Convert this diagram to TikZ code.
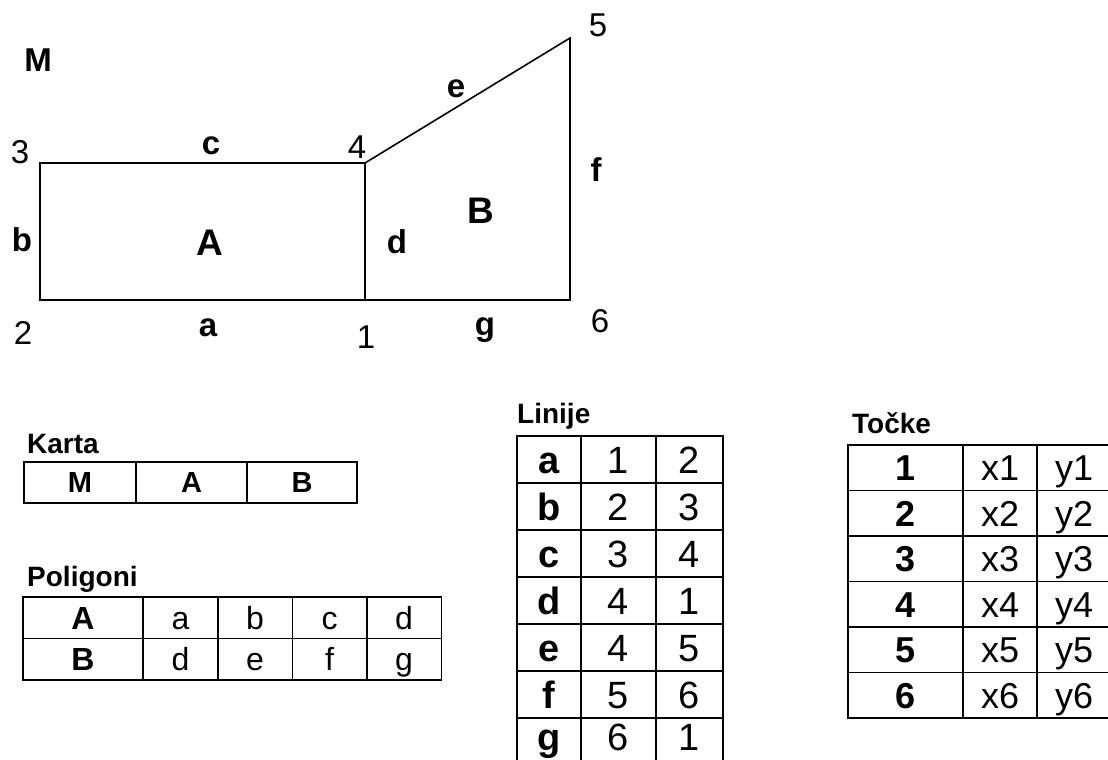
\documentclass[tikz,border=0pt]{standalone}
\usepackage{fontspec}
\setmainfont{Liberation Sans}
\usetikzlibrary{positioning}

\begin{document}
\begin{tikzpicture}[x=1pt, y=-1pt,
  thickln/.style={line width=2.8pt, line join=miter},
  thinln/.style={line width=1.6pt},
  num/.style={inner sep=0pt, font=\fontsize{33}{36}\selectfont},
  lett/.style={inner sep=0pt, font=\fontsize{33}{36}\selectfont\bfseries},
  area/.style={inner sep=0pt, font=\fontsize{37}{40}\selectfont\bfseries},
  ttl/.style={inner sep=0pt, anchor=base west, font=\fontsize{28}{30}\selectfont\bfseries},
  cell/.style={draw, line width=1.5pt, inner sep=0pt, text height={0.716*#1pt}, text depth=0pt,
    font=\fontsize{#1}{#1}\selectfont},
  bcell/.style={cell=#1, font=\fontsize{#1}{#1}\selectfont\bfseries},
  lastrow/.style={text depth=9pt}
]
  \useasboundingbox (0,0) rectangle (1108,760);

  % map: corner points
  \coordinate (p1) at (365,300);
  \coordinate (p2) at (40,300);
  \coordinate (p3) at (40,163);
  \coordinate (p4) at (365,163);
  \coordinate (p5) at (570,38);
  \coordinate (p6) at (570,300);
  \draw[thinln] (p4) -- (p5) -- (p6) -- (p1);
  \draw[thickln] (p1) -- (p2) -- (p3) -- (p4) -- cycle;

  \node[lett] (lM) at (38,60) {M};
  \node[num] (n1) at (366,337) {1};
  \node[num] (n2) at (23,333) {2};
  \node[num] (n3) at (20,152) {3};
  \node[num] (n4) at (357,147) {4};
  \node[num] (n5) at (598,25) {5};
  \node[num] (n6) at (600,321) {6};
  \node[lett] (la) at (208,328) {a};
  \node[lett] (lb) at (22,240) {b};
  \node[lett] (lc) at (211,146) {c};
  \node[lett] (ld) at (397,242) {d};
  \node[lett] (le) at (456,89) {e};
  \node[lett] (lf) at (596,170) {f};
  \node[lett] (lg) at (485,330) {g};
  \node[area] (lA) at (210,243) {A};
  \node[area] (lB) at (481,211) {B};

  % Karta
  \node[ttl] (tK) at (27,453) {Karta};
  \foreach \t/\x/\w [count=\i] in {M/80/112, A/191.5/111, B/302/110}
    \node[bcell=29, minimum width=\w pt, minimum height=41pt] (k\i) at (\x,482.5) {\t};

  % Poligoni
  \node[ttl] (tP) at (27,586) {Poligoni};
  \foreach \t/\a/\b/\c/\d [count=\r] in {A/a/b/c/d, B/d/e/f/g} {
    \node[bcell=32, minimum width=120pt, minimum height=41.5pt] (pg\r0) at (83,{576.25+41.5*\r}) {\t};
    \foreach \s/\x [count=\j] in {\a/180.5, \b/255, \c/329.5, \d/404}
      \node[cell=32, minimum width=74.5pt, minimum height=41.5pt] (pg\r\j) at (\x,{576.25+41.5*\r}) {\s};
  }

  % Linije (last row runs off the page)
  \node[ttl] (tL) at (517,423) {Linije};
  \foreach \n/\p/\q [count=\r] in {a/1/2, b/2/3, c/3/4, d/4/1, e/4/5, f/5/6} {
    \node[bcell=38, minimum width=64pt, minimum height=47pt] (ln\r) at (549,{412.5+47*\r}) {\n};
    \node[cell=38, minimum width=75pt, minimum height=47pt] (lp\r) at (618.5,{412.5+47*\r}) {\p};
    \node[cell=38, minimum width=67pt, minimum height=47pt] (lq\r) at (689.5,{412.5+47*\r}) {\q};
  }
  \node[bcell=38, lastrow, minimum width=64pt, minimum height=47pt] (ln7) at (549,741.5) {g};
  \node[cell=38, lastrow, minimum width=75pt, minimum height=47pt] (lp7) at (618.5,741.5) {6};
  \node[cell=38, lastrow, minimum width=67pt, minimum height=47pt] (lq7) at (689.5,741.5) {1};

  % Tocke
  \node[ttl] (tT) at (852,433) {Točke};
  \foreach \r in {1,...,6} {
    \node[bcell=36, minimum width=115pt, minimum height=45.5pt] (tn\r) at (905.5,{422.25+45.5*\r}) {\r};
    \node[cell=36, minimum width=74pt, minimum height=45.5pt] (tx\r) at (1000,{422.25+45.5*\r}) {x\r};
    \node[cell=36, minimum width=74pt, minimum height=45.5pt] (ty\r) at (1074,{422.25+45.5*\r}) {y\r};
  }
\end{tikzpicture}
\end{document}
